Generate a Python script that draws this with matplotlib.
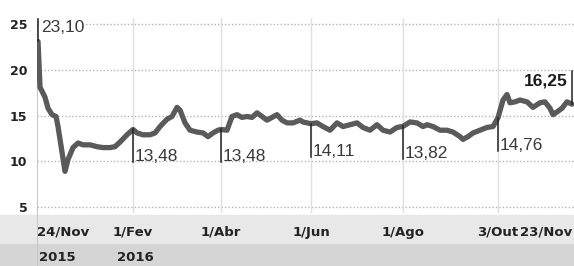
import matplotlib.pyplot as plt
from matplotlib.patches import Rectangle

# position along the x axis (chart units, 0 = 24/Nov/2015) and price
pos = [1, 3, 8, 11, 15, 19, 21, 25, 28, 31, 36, 41, 46, 53, 60, 66, 73, 78, 83, 90,
       96, 100, 106, 113, 118, 123, 130, 135, 140, 143, 148, 153, 160, 166, 171, 176,
       181, 184, 190, 195, 200, 205, 210, 215, 220, 225, 230, 235, 240, 245, 250, 256,
       263, 266, 274, 280, 286, 293, 300, 306, 313, 320, 326, 333, 340, 346, 353, 360,
       366, 373, 380, 386, 390, 396, 403, 410, 416, 423, 426, 431, 436, 443, 450, 456,
       461, 466, 470, 473, 478, 483, 490, 496, 503, 508, 513, 516, 520, 525, 530, 535]
price = [23.1, 18.1, 17.0, 15.8, 15.1, 14.9, 13.8, 11.0, 8.9, 10.2, 11.5, 12.0, 11.8, 11.8,
         11.6, 11.5, 11.5, 11.6, 12.1, 12.9, 13.48, 13.1, 12.9, 12.9, 13.1, 13.8, 14.6,
         14.9, 15.9, 15.6, 14.2, 13.4, 13.2, 13.1, 12.7, 13.1, 13.4, 13.48, 13.4, 14.9,
         15.1, 14.8, 14.9, 14.8, 15.3, 14.9, 14.5, 14.8, 15.1, 14.5, 14.2, 14.2, 14.5,
         14.3, 14.11, 14.2, 13.8, 13.4, 14.2, 13.8, 14.0, 14.2, 13.7, 13.4, 14.0, 13.4,
         13.2, 13.7, 13.82, 14.3, 14.2, 13.8, 14.0, 13.8, 13.4, 13.4, 13.2, 12.7, 12.4,
         12.7, 13.1, 13.4, 13.7, 13.8, 14.76, 16.7, 17.3, 16.4, 16.5, 16.7, 16.5, 15.9,
         16.4, 16.5, 15.8, 15.1, 15.4, 15.8, 16.5, 16.25]

tick_pos = [0, 96, 184, 274, 366, 461, 535]
tick_labels = ["24/Nov", "1/Fev", "1/Abr", "1/Jun", "1/Ago", "3/Out", "23/Nov"]
year_pos = [0, 96]
year_labels = ["2015", "2016"]

# marked values hanging below the line
mark_pos = [96, 184, 274, 366, 461]
mark_val = [13.48, 13.48, 14.11, 13.82, 14.76]
mark_txt = ["13,48", "13,48", "14,11", "13,82", "14,76"]

fig = plt.figure(figsize=(5.74, 2.66), dpi=100)
fig.patches.append(Rectangle((0, 0), 1, 0.0865, transform=fig.transFigure,
                             color="#d5d5d5", zorder=-10))
fig.patches.append(Rectangle((0, 0.0865), 1, 0.105, transform=fig.transFigure,
                             color="#e8e8e8", zorder=-10))
fig.add_artist(plt.Line2D([0.0645, 0.0645], [0, 0.2], transform=fig.transFigure,
                          color="#c8c8c8", lw=0.8, zorder=-5))

ax = fig.add_axes([0.0645, 0.199, 0.9355, 0.733])
ax.patch.set_alpha(0)
ax.set_xlim(0, 537)
ax.set_ylim(4.34, 25.66)
for s in ["top", "right", "bottom"]:
    ax.spines[s].set_visible(False)
ax.spines["left"].set_color("#c8c8c8")
ax.spines["left"].set_linewidth(0.8)

for y in [5, 10, 15, 20, 25]:
    ax.axhline(y, color="#b5b5b5", lw=1, ls=(0, (1, 1.5)), zorder=1)
for x in tick_pos[1:-1]:
    ax.axvline(x, color="#e0e0e0", lw=1, zorder=1)

ax.plot(pos, price, color="#5a5a5a", lw=3.8, solid_joinstyle="round",
        solid_capstyle="round", zorder=3)

for x, v, t in zip(mark_pos, mark_val, mark_txt):
    ax.plot([x, x], [v, v - 3.6], color="#222222", lw=1.1, zorder=4)
    ax.text(x + 2, v - 3.5, t, fontsize=12.5, family="Liberation Sans",
            color="#3a3a3a", va="baseline", ha="left", zorder=5)

# first and last value
ax.plot([1, 1], [23.1, 25.6], color="#222222", lw=1.1, zorder=4)
ax.text(4, 25.4, "23,10", fontsize=12.5, family="Liberation Sans", color="#3a3a3a",
        va="top", ha="left", zorder=5,
        bbox=dict(facecolor="white", edgecolor="none", pad=0.5))
ax.plot([535, 535], [16.25, 19.9], color="#222222", lw=1.1, zorder=4)
ax.text(531, 19.6, "16,25", fontsize=12.5, family="Liberation Sans", weight="bold",
        color="#1a1a1a", va="top", ha="right", zorder=5)

ax.set_yticks([5, 10, 15, 20, 25])
ax.set_yticklabels(["5", "10", "15", "20", "25"], fontsize=9, weight="bold",
                   color="#222222")
ax.tick_params(axis="y", length=0, pad=7)

ax.set_xticks(tick_pos)
ax.set_xticklabels(tick_labels, fontsize=9.5, weight="bold", color="#222222")
ax.tick_params(axis="x", length=0, pad=9)
labs = ax.get_xticklabels()
labs[0].set_ha("left")
labs[-1].set_ha("right")

for x, t in zip(year_pos, year_labels):
    ax.text(x + 2 if x == 0 else x - 16, -0.226, t, transform=ax.get_xaxis_transform(),
            fontsize=9.5, weight="bold", color="#222222", ha="left", va="center")

fig.savefig("out.png", dpi=100)
